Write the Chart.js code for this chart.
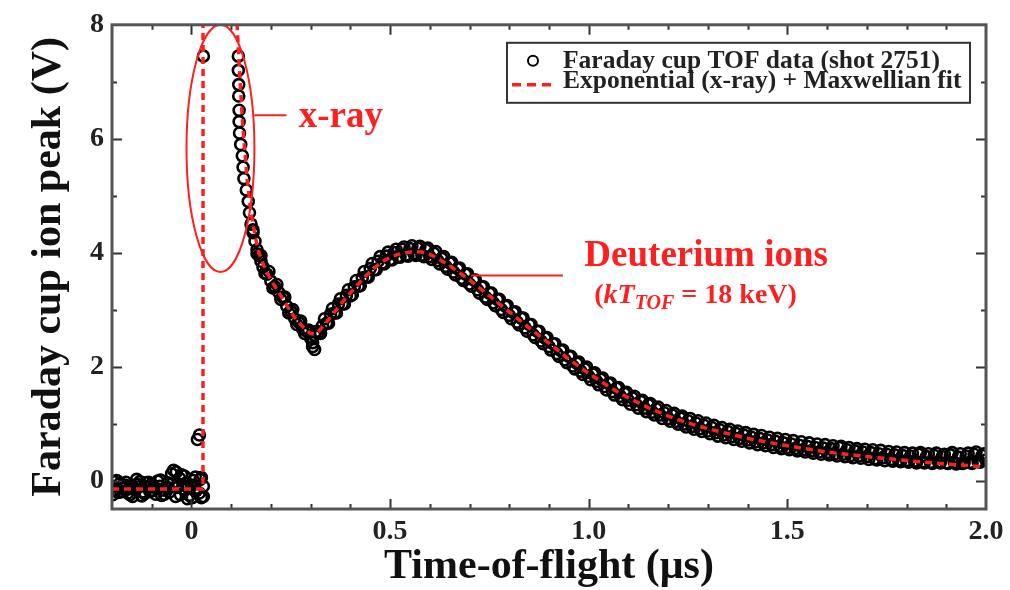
<!DOCTYPE html>
<html>
<head>
<meta charset="utf-8">
<script src="https://cdn.jsdelivr.net/npm/chart.js@4/dist/chart.umd.min.js"></script>
<style>
  html, body { margin: 0; padding: 0; background: #fff; }
  #wrap { width: 1010px; height: 590px; }
</style>
</head>
<body>
<div id="wrap"><canvas id="tofChart" width="1010" height="590"></canvas></div>
<script>
// Faraday cup TOF data (shot 2751)
const tofTimes = [
  -0.20, -0.195, -0.19, -0.185, -0.18, -0.175, -0.17, -0.165, -0.16, -0.155,
  -0.15, -0.145, -0.14, -0.135, -0.13, -0.125, -0.12, -0.115, -0.11, -0.105,
  -0.10, -0.095, -0.09, -0.085, -0.08, -0.075, -0.07, -0.065, -0.06, -0.055,
  -0.05, -0.045, -0.04, -0.035, -0.03, -0.025, -0.02, -0.015, -0.01, -0.005,
  0.00, 0.005, 0.01, 0.015, 0.02, 0.02, 0.025, 0.025, 0.03, 0.03,
  0.03, 0.118, 0.118, 0.119, 0.119, 0.12, 0.12, 0.121, 0.124, 0.128,
  0.13, 0.132, 0.138, 0.143, 0.146, 0.15, 0.155, 0.16, 0.165, 0.17,
  0.175, 0.18, 0.19, 0.20, 0.21, 0.22, 0.23, 0.24, 0.25, 0.26,
  0.27, 0.28, 0.29, 0.30, 0.305, 0.31, 0.31,
  0.32, 0.33, 0.34, 0.35, 0.36, 0.37, 0.38, 0.39, 0.40, 0.41,
  0.42, 0.43, 0.44, 0.45, 0.46, 0.47, 0.48, 0.49, 0.50, 0.51,
  0.52, 0.53, 0.54, 0.55, 0.56, 0.57, 0.58, 0.59, 0.60, 0.61,
  0.62, 0.63, 0.64, 0.65, 0.66, 0.67, 0.68, 0.69, 0.70, 0.71,
  0.72, 0.73, 0.74, 0.75, 0.76, 0.77, 0.78, 0.79, 0.80, 0.81,
  0.82, 0.83, 0.84, 0.85, 0.86, 0.87, 0.88, 0.89, 0.90, 0.91,
  0.92, 0.93, 0.94, 0.95, 0.96, 0.97, 0.98, 0.99, 1.00, 1.01,
  1.02, 1.03, 1.04, 1.05, 1.06, 1.07, 1.08, 1.09, 1.10, 1.11,
  1.12, 1.13, 1.14, 1.15, 1.16, 1.17, 1.18, 1.19, 1.20, 1.21,
  1.22, 1.23, 1.24, 1.25, 1.26, 1.27, 1.28, 1.29, 1.30, 1.31,
  1.32, 1.33, 1.34, 1.35, 1.36, 1.37, 1.38, 1.39, 1.40, 1.41,
  1.42, 1.43, 1.44, 1.45, 1.46, 1.47, 1.48, 1.49, 1.50, 1.51,
  1.52, 1.53, 1.54, 1.55, 1.56, 1.57, 1.58, 1.59, 1.60, 1.61,
  1.62, 1.63, 1.64, 1.65, 1.66, 1.67, 1.68, 1.69, 1.70, 1.71,
  1.72, 1.73, 1.74, 1.75, 1.76, 1.77, 1.78, 1.79, 1.80, 1.81,
  1.82, 1.83, 1.84, 1.85, 1.86, 1.87, 1.88, 1.89, 1.90, 1.91,
  1.92, 1.93, 1.94, 1.95, 1.96, 1.97, 1.98, 1.99, 2.00
];
const tofVolts = [
  -0.10, -0.02, -0.18, -0.21, -0.05, -0.12, -0.14, -0.03, -0.22, -0.25,
  -0.08, -0.13, -0.16, -0.07, -0.02, -0.27, -0.20, -0.04, -0.12, -0.19,
  -0.06, -0.11, -0.24, -0.01, -0.10, -0.26, -0.17, -0.12, -0.04, -0.20,
  0.12, 0.18, -0.28, -0.12, 0.04, 0.10, -0.15, -0.05, -0.32, -0.26,
  -0.08, 0.00, 0.06, 0.72, -0.22, 0.80, -0.30, 0.05, -0.28, 7.45,
  -0.10, 7.45, 7.20, 6.95, 6.75, 6.50, 6.30, 6.10, 5.90, 5.70,
  5.50, 5.30, 5.10, 4.90, 4.70, 4.50, 4.35, 4.20, 4.05, 3.95,
  3.85, 3.75, 3.62, 3.50, 3.40, 3.30, 3.22, 3.06, 2.97, 2.84,
  2.78, 2.66, 2.62, 2.50, 2.35, 2.55, 2.30,
  2.60, 2.72, 2.76, 2.92, 2.94, 3.10, 3.10, 3.25, 3.24, 3.40,
  3.41, 3.56, 3.57, 3.72, 3.70, 3.85, 3.82, 3.94, 3.88, 4.00,
  3.93, 4.06, 3.96, 4.07, 3.98, 4.08, 3.96, 4.05, 3.93, 3.99,
  3.86, 3.90, 3.76, 3.82, 3.66, 3.72, 3.55, 3.62, 3.45, 3.52,
  3.35, 3.40, 3.22, 3.29, 3.12, 3.18, 3.00, 3.06, 2.90, 2.95,
  2.78, 2.85, 2.68, 2.74, 2.56, 2.62, 2.45, 2.50, 2.35, 2.40,
  2.23, 2.28, 2.12, 2.18, 2.01, 2.06, 1.92, 1.96, 1.83, 1.87,
  1.74, 1.78, 1.65, 1.70, 1.56, 1.62, 1.48, 1.53, 1.41, 1.45,
  1.33, 1.39, 1.27, 1.33, 1.20, 1.26, 1.15, 1.19, 1.09, 1.15,
  1.04, 1.10, 0.99, 1.05, 0.95, 1.01, 0.91, 0.97, 0.87, 0.93,
  0.84, 0.89, 0.80, 0.86, 0.77, 0.83, 0.74, 0.80, 0.71, 0.76,
  0.68, 0.74, 0.66, 0.71, 0.63, 0.69, 0.60, 0.66, 0.58, 0.64,
  0.56, 0.62, 0.54, 0.60, 0.52, 0.58, 0.50, 0.57, 0.49, 0.56,
  0.47, 0.58, 0.46, 0.54, 0.44, 0.52, 0.43, 0.50, 0.42, 0.49,
  0.38, 0.47, 0.40, 0.46, 0.37, 0.45, 0.36, 0.44, 0.35, 0.43,
  0.34, 0.46, 0.33, 0.42, 0.32, 0.44, 0.33, 0.42, 0.31, 0.45,
  0.32, 0.41, 0.30, 0.43, 0.32, 0.46, 0.34, 0.44, 0.36
];
// second pass of samples, in between the first ones
const tofTimesB = [
  -0.198, -0.188, -0.178, -0.168, -0.158, -0.148, -0.138, -0.128, -0.118, -0.108,
  -0.098, -0.088, -0.078, -0.068, -0.058, -0.048, -0.038, -0.028, -0.018, -0.008,
  0.002, 0.012, 0.022,
  0.155, 0.165, 0.175, 0.185, 0.195, 0.205, 0.215, 0.225, 0.235, 0.245,
  0.255, 0.265, 0.275, 0.285, 0.295, 0.305, 0.315, 0.325, 0.335, 0.345,
  0.355, 0.365, 0.375, 0.385, 0.395, 0.405, 0.415, 0.425, 0.435, 0.445,
  0.455, 0.465, 0.475, 0.485, 0.495, 0.505, 0.515, 0.525, 0.535, 0.545,
  0.555, 0.565, 0.575, 0.585, 0.595, 0.605, 0.615, 0.625, 0.635, 0.645,
  0.655, 0.665, 0.675, 0.685, 0.695, 0.705, 0.715, 0.725, 0.735, 0.745,
  0.755, 0.765, 0.775, 0.785, 0.795, 0.805, 0.815, 0.825, 0.835, 0.845,
  0.855, 0.865, 0.875, 0.885, 0.895, 0.905, 0.915, 0.925, 0.935, 0.945,
  0.955, 0.965, 0.975, 0.985, 0.995, 1.005, 1.015, 1.025, 1.035, 1.045,
  1.055, 1.065, 1.075, 1.085, 1.095, 1.105, 1.115, 1.125, 1.135, 1.145,
  1.155, 1.165, 1.175, 1.185, 1.195, 1.205, 1.215, 1.225, 1.235, 1.245,
  1.255, 1.265, 1.275, 1.285, 1.295, 1.305, 1.315, 1.325, 1.335, 1.345,
  1.355, 1.365, 1.375, 1.385, 1.395, 1.405, 1.415, 1.425, 1.435, 1.445,
  1.455, 1.465, 1.475, 1.485, 1.495, 1.505, 1.515, 1.525, 1.535, 1.545,
  1.555, 1.565, 1.575, 1.585, 1.595, 1.605, 1.615, 1.625, 1.635, 1.645,
  1.655, 1.665, 1.675, 1.685, 1.695, 1.705, 1.715, 1.725, 1.735, 1.745,
  1.755, 1.765, 1.775, 1.785, 1.795, 1.805, 1.815, 1.825, 1.835, 1.845,
  1.855, 1.865, 1.875, 1.885, 1.895, 1.905, 1.915, 1.925, 1.935, 1.945,
  1.955, 1.965, 1.975, 1.985, 1.995
];
const tofVoltsB = [
  -0.25, 0.00, -0.20, -0.08, -0.15, -0.28, 0.02, -0.10, -0.23, -0.03,
  -0.18, -0.14, 0.01, -0.24, -0.13, -0.05, 0.15, -0.25, 0.08, -0.12,
  -0.30, -0.18, 0.02,
  4.40, 3.98, 3.95, 3.64, 3.67, 3.38, 3.44, 3.18, 3.22, 2.94,
  3.00, 2.74, 2.80, 2.58, 2.64, 2.42, 2.62, 2.58, 2.84, 2.76,
  3.02, 2.94, 3.19, 3.10, 3.35, 3.26, 3.51, 3.42, 3.67, 3.57,
  3.81, 3.70, 3.93, 3.80, 4.01, 3.87, 4.06, 3.92, 4.10, 3.94,
  4.12, 3.95, 4.11, 3.93, 4.08, 3.88, 4.02, 3.80, 3.93, 3.71,
  3.83, 3.61, 3.73, 3.51, 3.63, 3.41, 3.52, 3.29, 3.40, 3.18,
  3.29, 3.07, 3.18, 2.95, 3.07, 2.84, 2.96, 2.73, 2.85, 2.62,
  2.74, 2.51, 2.62, 2.40, 2.51, 2.29, 2.40, 2.18, 2.29, 2.07,
  2.18, 1.96, 2.08, 1.86, 1.99, 1.77, 1.89, 1.68, 1.80, 1.59,
  1.71, 1.50, 1.63, 1.42, 1.55, 1.34, 1.48, 1.27, 1.41, 1.21,
  1.35, 1.15, 1.29, 1.09, 1.23, 1.04, 1.18, 0.99, 1.13, 0.94,
  1.09, 0.90, 1.05, 0.86, 1.01, 0.82, 0.97, 0.78, 0.93, 0.75,
  0.90, 0.72, 0.87, 0.69, 0.84, 0.66, 0.81, 0.63, 0.79, 0.61,
  0.76, 0.58, 0.74, 0.56, 0.72, 0.54, 0.70, 0.52, 0.68, 0.50,
  0.66, 0.48, 0.64, 0.46, 0.63, 0.45, 0.61, 0.43, 0.60, 0.42,
  0.58, 0.40, 0.56, 0.39, 0.55, 0.37, 0.54, 0.36, 0.53, 0.35,
  0.51, 0.34, 0.50, 0.33, 0.49, 0.32, 0.48, 0.31, 0.49, 0.31,
  0.47, 0.30, 0.48, 0.31, 0.46, 0.30, 0.49, 0.29, 0.47, 0.31,
  0.48, 0.30, 0.50, 0.32, 0.47
];

// Exponential (x-ray) + Maxwellian fit
const fitTimes = [
  -0.20, 0.029, 0.030, 0.060, 0.090, 0.110, 0.115, 0.120, 0.125, 0.130,
  0.14, 0.15, 0.16, 0.17, 0.18, 0.20, 0.22, 0.24, 0.26, 0.28,
  0.30, 0.31, 0.32, 0.34, 0.36, 0.38, 0.40, 0.42, 0.44, 0.46,
  0.48, 0.50, 0.52, 0.54, 0.56, 0.58, 0.60, 0.62, 0.65, 0.70,
  0.75, 0.80, 0.85, 0.90, 0.95, 1.00, 1.05, 1.10, 1.15, 1.20,
  1.25, 1.30, 1.40, 1.50, 1.60, 1.70, 1.80, 1.90, 2.00
];
const fitVolts = [
  -0.15, -0.15, 40.0, 18.0, 10.5, 8.6, 8.0, 7.3, 6.7, 6.15,
  5.30, 4.70, 4.30, 4.00, 3.80, 3.52, 3.30, 3.07, 2.86, 2.70,
  2.58, 2.57, 2.62, 2.78, 2.96, 3.13, 3.29, 3.45, 3.60, 3.73,
  3.84, 3.92, 3.97, 4.00, 4.02, 4.01, 3.97, 3.90, 3.77, 3.52,
  3.24, 2.96, 2.68, 2.41, 2.13, 1.88, 1.65, 1.45, 1.28, 1.13,
  1.01, 0.91, 0.74, 0.61, 0.50, 0.42, 0.35, 0.29, 0.24
];

// tick positions (minor every 0.1 / 1, labels on the major ones)
const xTickValues = [
  -0.2, -0.1, 0, 0.1, 0.2, 0.3, 0.4, 0.5, 0.6, 0.7, 0.8, 0.9, 1.0,
  1.1, 1.2, 1.3, 1.4, 1.5, 1.6, 1.7, 1.8, 1.9, 2.0
];
const xTickLabels = { '0': '0', '0.5': '0.5', '1': '1.0', '1.5': '1.5', '2': '2.0' };
const yTickValues = [0, 1, 2, 3, 4, 5, 6, 7, 8];
const yTickLabels = { '0': '0', '2': '2', '4': '4', '6': '6', '8': '8' };

const serif = "'Liberation Serif', 'Times New Roman', serif";
const red = '#ff1f1f';

const toPoints = (xs, ys) => xs.map((x, i) => ({ x: x, y: ys[i] }));

// ticks, frame, legend and red annotations
const decor = {
  id: 'decor',
  afterDatasetsDraw(chart) {
    const { ctx, chartArea: a, scales: { x, y } } = chart;
    ctx.save();
    ctx.beginPath();
    ctx.rect(a.left, a.top, a.right - a.left, a.bottom - a.top);
    ctx.clip();
    ctx.strokeStyle = red;
    ctx.lineWidth = 2;
    // ellipse round the x-ray spike
    const cx = x.getPixelForValue(0.073), cy = y.getPixelForValue(5.83);
    const rx = x.getPixelForValue(0.073 + 0.0855) - cx;
    const ry = cy - y.getPixelForValue(5.83 + 2.17);
    ctx.beginPath();
    ctx.ellipse(cx, cy, rx, ry, 0, 0, Math.PI * 2);
    ctx.stroke();
    ctx.beginPath();
    ctx.moveTo(x.getPixelForValue(0.158), y.getPixelForValue(6.41));
    ctx.lineTo(x.getPixelForValue(0.239), y.getPixelForValue(6.41));
    ctx.moveTo(x.getPixelForValue(0.704), y.getPixelForValue(3.60));
    ctx.lineTo(x.getPixelForValue(0.935), y.getPixelForValue(3.60));
    ctx.stroke();

    ctx.fillStyle = red;
    ctx.textBaseline = 'alphabetic';
    ctx.textAlign = 'left';
    ctx.font = 'bold 37px ' + serif;
    ctx.fillText('x-ray', x.getPixelForValue(0.27), y.getPixelForValue(6.2));
    ctx.fillText('Deuterium ions', x.getPixelForValue(0.989), y.getPixelForValue(3.76));

    // (kT_TOF = 18 keV)
    let px = x.getPixelForValue(1.014);
    const py = y.getPixelForValue(3.12);
    const part = (txt, font, dy) => {
      ctx.font = font;
      ctx.fillText(txt, px, py + dy);
      px += ctx.measureText(txt).width;
    };
    part('(', 'bold 28px ' + serif, 0);
    part('kT', 'italic bold 28px ' + serif, 0);
    part('TOF', 'italic bold 20px ' + serif, 6);
    part(' = 18 keV)', 'bold 28px ' + serif, 0);
    ctx.restore();
  },
  afterDraw(chart) {
    const { ctx, chartArea: a, scales: { x, y } } = chart;
    ctx.save();
    // inward ticks on all four sides
    ctx.strokeStyle = '#333';
    ctx.lineWidth = 2;
    ctx.beginPath();
    x.ticks.forEach(t => {
      if (t.value <= x.min || t.value >= x.max) return;
      const len = t.label !== '' ? 10 : 5;
      const px = Math.round(x.getPixelForValue(t.value)) + 0.5;
      ctx.moveTo(px, a.bottom); ctx.lineTo(px, a.bottom - len);
      ctx.moveTo(px, a.top); ctx.lineTo(px, a.top + len);
    });
    y.ticks.forEach(t => {
      if (t.value <= y.min || t.value >= y.max) return;
      const len = t.label !== '' ? 10 : 5;
      const py = Math.round(y.getPixelForValue(t.value)) + 0.5;
      ctx.moveTo(a.left, py); ctx.lineTo(a.left + len, py);
      ctx.moveTo(a.right, py); ctx.lineTo(a.right - len, py);
    });
    ctx.stroke();
    // frame
    ctx.strokeStyle = '#555';
    ctx.lineWidth = 3;
    ctx.strokeRect(a.left, a.top, a.right - a.left, a.bottom - a.top);

    // legend box
    const fitDs = chart.data.datasets[0], dataDs = chart.data.datasets[1];
    const bx = a.right - 479, by = a.top + 18, bw = 463, bh = 60;
    ctx.fillStyle = '#fff';
    ctx.fillRect(bx, by, bw, bh);
    ctx.strokeStyle = '#333';
    ctx.lineWidth = 2;
    ctx.strokeRect(bx, by, bw, bh);
    ctx.beginPath();
    ctx.lineWidth = 2;
    ctx.strokeStyle = dataDs.borderColor;
    ctx.arc(bx + 26, by + 18, 5, 0, Math.PI * 2);
    ctx.stroke();
    ctx.beginPath();
    ctx.setLineDash([9, 6]);
    ctx.lineWidth = fitDs.borderWidth;
    ctx.strokeStyle = fitDs.borderColor;
    ctx.moveTo(bx + 5, by + 42);
    ctx.lineTo(bx + 48, by + 42);
    ctx.stroke();
    ctx.setLineDash([]);
    ctx.fillStyle = '#222';
    ctx.font = 'bold 25.5px ' + serif;
    ctx.textAlign = 'left';
    ctx.textBaseline = 'alphabetic';
    ctx.fillText(dataDs.label, bx + 56, by + 25);
    ctx.fillText(fitDs.label, bx + 56, by + 45);
    ctx.restore();
  }
};

const ctx = document.getElementById('tofChart');
const tofChart = new Chart(ctx, {
  type: 'scatter',
  data: {
    datasets: [{
      label: 'Exponential (x-ray) + Maxwellian fit',
      data: toPoints(fitTimes, fitVolts),
      showLine: true,
      borderColor: red,
      borderWidth: 3.5,
      borderDash: [7, 5],
      pointRadius: 0,
      tension: 0
    }, {
      label: 'Faraday cup TOF data (shot 2751)',
      data: toPoints(tofTimes, tofVolts).concat(toPoints(tofTimesB, tofVoltsB)),
      showLine: false,
      pointStyle: 'circle',
      pointRadius: 5.5,
      borderColor: '#000',
      borderWidth: 2.6,
      backgroundColor: 'rgba(255,255,255,0)'
    }]
  },
  options: {
    responsive: false,
    animation: false,
    layout: { padding: { top: 22, right: 24, left: 0, bottom: 0 } },
    plugins: {
      legend: { display: false },
      tooltip: { enabled: false }
    },
    scales: {
      x: {
        type: 'linear',
        min: -0.2,
        max: 2.0,
        grid: { display: false, drawTicks: false },
        border: { display: false },
        afterBuildTicks: (scale) => { scale.ticks = xTickValues.map(v => ({ value: v })); },
        ticks: {
          autoSkip: false,
          maxRotation: 0,
          padding: 6,
          color: '#222',
          font: { family: serif, size: 28, weight: 'bold' },
          callback: (v) => xTickLabels[String(v)] || ''
        },
        title: {
          display: true,
          text: 'Time-of-flight (μs)',
          color: '#111',
          font: { family: serif, size: 42, weight: 'bold' },
          padding: { top: 0, bottom: -2 }
        },
        afterFit: (scale) => { scale.height = 81; }
      },
      y: {
        min: -0.5,
        max: 8,
        grid: { display: false, drawTicks: false },
        border: { display: false },
        afterBuildTicks: (scale) => { scale.ticks = yTickValues.map(v => ({ value: v })); },
        ticks: {
          autoSkip: false,
          padding: 8,
          color: '#222',
          font: { family: serif, size: 28, weight: 'bold' },
          callback: (v) => yTickLabels[String(v)] || ''
        },
        title: {
          display: true,
          text: 'Faraday cup ion peak (V)',
          color: '#111',
          font: { family: serif, size: 42, weight: 'bold' },
          padding: { top: 24, bottom: 0 }
        },
        afterFit: (scale) => { scale.width = 112; }
      }
    }
  },
  plugins: [decor]
});
</script>
</body>
</html>
